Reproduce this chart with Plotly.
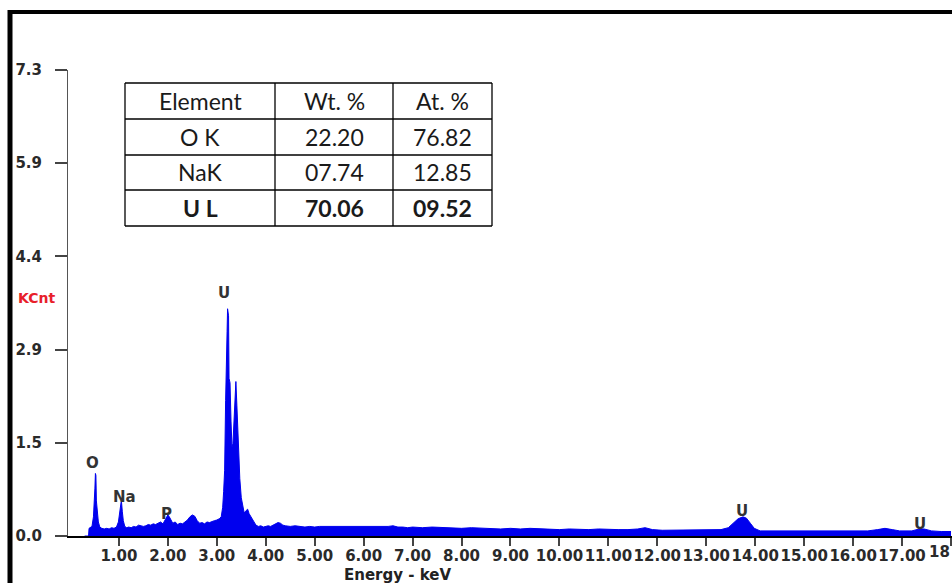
import plotly.graph_objects as go

# ---------------- data ----------------
energy_kev = [
    0.30, 0.38, 0.39, 0.42, 0.45, 0.48, 0.50, 0.51, 0.52, 0.53, 0.54, 0.56, 0.58, 0.61, 0.65,
    0.70, 0.75, 0.80, 0.85, 0.90, 0.95, 0.99, 1.01, 1.03, 1.05, 1.07, 1.09, 1.12, 1.16, 1.20,
    1.25, 1.30, 1.35, 1.40, 1.45, 1.50, 1.55, 1.60, 1.65, 1.70, 1.75, 1.80, 1.85, 1.90, 1.95,
    2.00, 2.03, 2.07, 2.10, 2.15, 2.20, 2.25, 2.30, 2.35, 2.40, 2.45, 2.50, 2.55, 2.60, 2.65,
    2.70, 2.75, 2.80, 2.85, 2.90, 2.95, 3.00, 3.05, 3.09, 3.12, 3.14, 3.16, 3.18, 3.20, 3.21,
    3.22, 3.24, 3.25, 3.27, 3.29, 3.31, 3.33, 3.35, 3.37, 3.39, 3.41, 3.43, 3.45, 3.47, 3.50,
    3.53, 3.56, 3.60, 3.63, 3.66, 3.70, 3.75, 3.80, 3.85, 3.90, 3.95, 4.00, 4.05, 4.10, 4.15,
    4.20, 4.25, 4.30, 4.35, 4.40, 4.50, 4.60, 4.70, 4.80, 4.90, 5.00, 5.10, 5.20, 5.30, 5.40,
    5.50, 5.60, 5.70, 5.80, 5.90, 6.00, 6.10, 6.20, 6.30, 6.40, 6.50, 6.60, 6.70, 6.80, 6.90,
    7.00, 7.20, 7.40, 7.60, 7.80, 8.00, 8.20, 8.40, 8.60, 8.80, 9.00, 9.20, 9.40, 9.60, 9.80,
    10.00, 10.20, 10.40, 10.60, 10.80, 11.00, 11.20, 11.40, 11.60, 11.75, 11.90, 12.10, 12.30,
    12.50, 12.70, 12.90, 13.10, 13.30, 13.45, 13.55, 13.65, 13.75, 13.82, 13.90, 13.98, 14.10,
    14.30, 14.50, 14.70, 14.90, 15.10, 15.30, 15.50, 15.70, 15.90, 16.10, 16.30, 16.50, 16.65,
    16.80, 16.95, 17.20, 17.35, 17.45, 17.60, 17.80, 18.00,
]
counts_kcnt = [
    0.00, 0.00, 0.12, 0.14, 0.15, 0.30, 0.52, 0.75, 0.98, 0.95, 0.55, 0.40, 0.22, 0.14, 0.12,
    0.11, 0.12, 0.11, 0.13, 0.12, 0.14, 0.22, 0.35, 0.50, 0.56, 0.38, 0.24, 0.15, 0.13, 0.14,
    0.13, 0.15, 0.14, 0.17, 0.16, 0.15, 0.16, 0.18, 0.17, 0.19, 0.18, 0.20, 0.22, 0.19, 0.25,
    0.33, 0.30, 0.24, 0.20, 0.22, 0.18, 0.20, 0.19, 0.22, 0.25, 0.30, 0.33, 0.31, 0.24, 0.20,
    0.21, 0.19, 0.22, 0.21, 0.23, 0.24, 0.25, 0.27, 0.30, 0.45, 0.70, 1.03, 2.12, 2.60, 3.20,
    3.56, 3.45, 2.47, 2.40, 1.80, 1.39, 1.45, 1.77, 2.10, 2.42, 2.05, 1.60, 1.24, 0.90, 0.60,
    0.45, 0.36, 0.40, 0.42, 0.35, 0.30, 0.25, 0.17, 0.15, 0.16, 0.14, 0.15, 0.16, 0.15, 0.17,
    0.19, 0.21, 0.20, 0.17, 0.16, 0.15, 0.16, 0.15, 0.14, 0.15, 0.14, 0.15, 0.15, 0.14, 0.15,
    0.14, 0.15, 0.14, 0.14, 0.15, 0.15, 0.14, 0.14, 0.15, 0.14, 0.15, 0.16, 0.14, 0.14, 0.13,
    0.14, 0.13, 0.14, 0.13, 0.13, 0.12, 0.13, 0.12, 0.12, 0.11, 0.12, 0.11, 0.12, 0.11, 0.11,
    0.10, 0.11, 0.10, 0.10, 0.11, 0.10, 0.10, 0.10, 0.11, 0.13, 0.10, 0.09, 0.09,
    0.09, 0.09, 0.09, 0.09, 0.10, 0.13, 0.20, 0.27, 0.30, 0.28, 0.20, 0.12, 0.08,
    0.08, 0.08, 0.08, 0.08, 0.08, 0.08, 0.08, 0.08, 0.08, 0.08, 0.08, 0.10, 0.12,
    0.10, 0.08, 0.08, 0.11, 0.11, 0.08, 0.07, 0.07,
]

peak_labels = ["O", "Na", "P", "U", "U", "U"]
peak_label_x = [0.47, 1.12, 1.98, 3.14, 13.73, 17.37]
peak_label_y = [1.14, 0.61, 0.34, 3.81, 0.39, 0.19]

x_tick_values = [1, 2, 3, 4, 5, 6, 7, 8, 9, 10, 11, 12, 13, 14, 15, 16, 17, 18]
x_tick_text = ["%.2f" % v for v in x_tick_values]
x_last_label_visible = "18"
y_tick_values = [0.0, 1.46, 2.92, 4.38, 5.84, 7.3]
y_tick_text = ["0.0", "1.5", "2.9", "4.4", "5.9", "7.3"]

table_header = ["Element", "Wt. %", "At. %"]
table_elements = ["O K", "NaK", "U L"]
table_wt = ["22.20", "07.74", "70.06"]
table_at = ["76.82", "12.85", "09.52"]

# ---------------- layout helpers ----------------
W, H = 952, 583
L, R, T, B = 68, 0, 70, 47
PW, PH = W - L - R, H - T - B


def px2x(px):
    return (px - L) / PW


def py2y(py):
    return (H - B - py) / PH


fig = go.Figure()
fig.add_trace(go.Scatter(
    x=energy_kev, y=counts_kcnt, mode="lines", line=dict(color="#0000ee", width=1),
    fill="tozeroy", fillcolor="#0000ee", hoverinfo="skip", showlegend=False,
))

ann = []
for t, xv, yv in zip(peak_labels, peak_label_x, peak_label_y):
    ann.append(dict(x=xv, y=yv, xref="x", yref="y", text="<b>%s</b>" % t, showarrow=False,
                    xanchor="center", yanchor="middle",
                    font=dict(size=15, color="#333333", family="DejaVu Sans")))

ann.append(dict(x=px2x(397), y=py2y(575), xref="paper", yref="paper", text="<b>Energy - keV</b>",
                showarrow=False, xanchor="center", yanchor="middle",
                font=dict(size=15, color="#222222", family="DejaVu Sans")))
ann.append(dict(x=px2x(16), y=py2y(298), xref="paper", yref="paper", xanchor="left",
                yanchor="middle", text="<b>KCnt</b>", showarrow=False,
                font=dict(size=14, color="#e8202a", family="DejaVu Sans")))
# the last tick label is cut by the picture's right edge in the original
ann.append(dict(x=1.0, y=py2y(552), xref="paper", yref="paper", xanchor="right",
                yanchor="middle", text="<b>%s</b>" % x_last_label_visible, showarrow=False,
                font=dict(size=15, color="#2a2a2a", family="DejaVu Sans")))

shapes = []
# frame
shapes.append(dict(type="line", xref="paper", yref="paper", x0=px2x(10), x1=px2x(10),
                   y0=py2y(10), y1=py2y(600), line=dict(color="black", width=5)))
shapes.append(dict(type="line", xref="paper", yref="paper", x0=px2x(8), x1=px2x(960),
                   y0=py2y(12), y1=py2y(12), line=dict(color="black", width=4)))

# table
col_edges = [125, 275, 393, 492]
row_edges = [83, 119, 155, 190, 226]
for cx in col_edges:
    shapes.append(dict(type="line", xref="paper", yref="paper", x0=px2x(cx), x1=px2x(cx),
                       y0=py2y(row_edges[0]), y1=py2y(row_edges[-1]),
                       line=dict(color="black", width=1.3)))
for ry in row_edges:
    shapes.append(dict(type="line", xref="paper", yref="paper", x0=px2x(col_edges[0]),
                       x1=px2x(col_edges[-1]), y0=py2y(ry), y1=py2y(ry),
                       line=dict(color="black", width=1.3)))

rows = [table_header] + [[e, w, a] for e, w, a in zip(table_elements, table_wt, table_at)]
for ri, row in enumerate(rows):
    cy = (row_edges[ri] + row_edges[ri + 1]) / 2
    for ci, txt in enumerate(row):
        cx = (col_edges[ci] + col_edges[ci + 1]) / 2
        label = "<b>%s</b>" % txt if ri == len(rows) - 1 else txt
        ann.append(dict(x=px2x(cx), y=py2y(cy), xref="paper", yref="paper", text=label,
                        showarrow=False, xanchor="center", yanchor="middle",
                        font=dict(size=23, color="#1a1a1a", family="Lato")))

fig.update_layout(
    width=W, height=H, margin=dict(l=L, r=R, t=T, b=B),
    paper_bgcolor="white", plot_bgcolor="white",
    font=dict(family="DejaVu Sans", color="#333333"),
    annotations=ann, shapes=shapes, showlegend=False,
    xaxis=dict(range=[-0.04, 18.02], tickvals=x_tick_values, ticktext=x_tick_text,
               showgrid=False, zeroline=False, showline=True, linecolor="black", linewidth=2,
               ticks="outside", ticklen=8, tickcolor="#444444", tickwidth=1.5,
               tickangle=0, ticklabelstandoff=-3,
               tickfont=dict(size=15, color="#2a2a2a", family="DejaVu Sans", weight="bold"),
               fixedrange=True),
    yaxis=dict(range=[0, 7.3], tickvals=y_tick_values, ticktext=y_tick_text,
               showgrid=False, zeroline=False, showline=True, linecolor="#555555", linewidth=1,
               ticks="outside", ticklen=12, tickcolor="#444444", tickwidth=1.5,
               ticklabelstandoff=10,
               tickfont=dict(size=15, color="#2a2a2a", family="DejaVu Sans", weight="bold"),
               fixedrange=True),
)

fig.write_html("out.html", config={"displayModeBar": False},
               post_script="document.body.style.margin='0';document.body.style.overflow='hidden';")
